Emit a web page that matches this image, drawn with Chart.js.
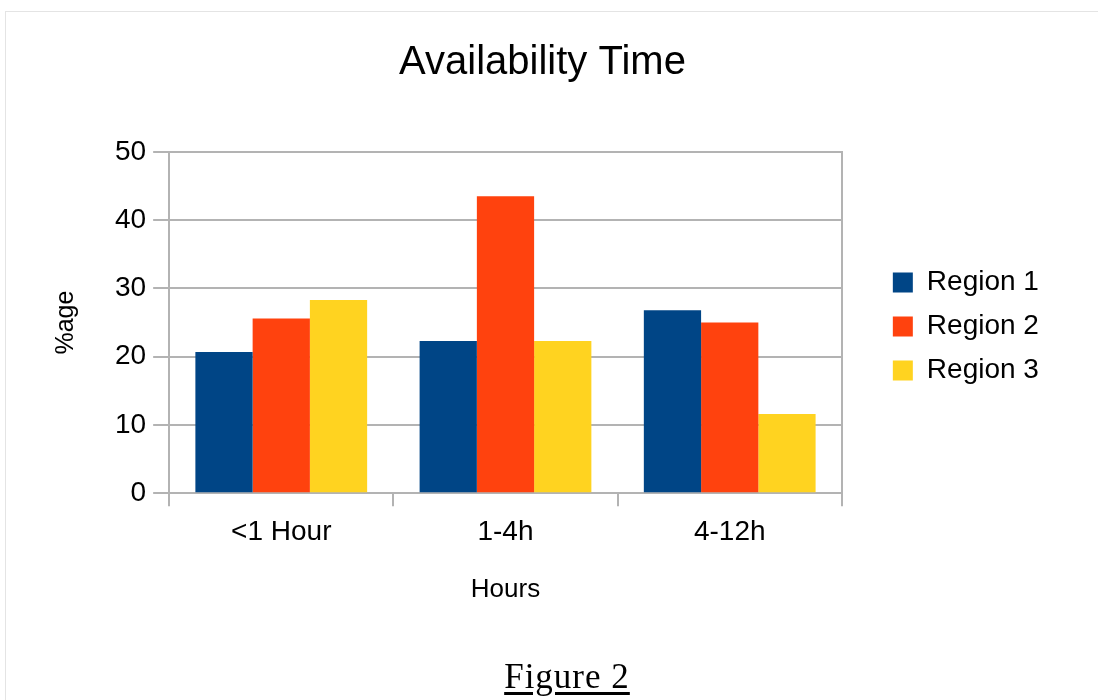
<!DOCTYPE html>
<html lang="en">
<head>
    <meta charset="UTF-8">
    <title>Availability Time</title>
    <script src="https://cdn.jsdelivr.net/npm/chart.js"></script>
    <style>
        body { margin: 0; background: #fff; font-family: "Liberation Sans", Arial, sans-serif; }
        #wrap { position: relative; width: 1098px; height: 700px; overflow: hidden; }
        #frame { position: absolute; left: 5px; top: 11px; width: 1200px; height: 800px;
                 border-left: 1px solid #e4e4e4; border-top: 1px solid #e4e4e4; }
        #chartBox { position: absolute; left: 0; top: 0; width: 1098px; height: 700px; }
        .fig { position: absolute; left: 0; width: 1134px; top: 657px; text-align: center;
               font-family: "Liberation Serif", "Times New Roman", serif; font-size: 35px;
               letter-spacing: 1px; text-decoration: underline; text-underline-offset: 4px; color: #000; }
    </style>
</head>
<body>
<div id="wrap">
    <div id="frame"></div>
    <div id="chartBox"><canvas id="availChart"></canvas></div>
    <div class="fig">Figure 2</div>
</div>

<script>
// values
const categories = ['<1 Hour', '1-4h', '4-12h'];
const seriesNames = ['Region 1', 'Region 2', 'Region 3'];
const region1 = [20.7, 22.3, 26.8];
const region2 = [25.6, 43.5, 25.0];
const region3 = [28.3, 22.3, 11.6];
const yTicks = [0, 10, 20, 30, 40, 50];

const colors = ['#004586', '#ff420e', '#ffd320'];
const gray = '#b3b3b3';
const allValues = [region1, region2, region3];

const ctx = document.getElementById('availChart').getContext('2d');
new Chart(ctx, {
    type: 'bar',
    data: {
        labels: categories,
        datasets: seriesNames.map((name, i) => ({
            label: name,
            data: allValues[i],
            backgroundColor: colors[i],
            borderWidth: 0,
            categoryPercentage: 0.766,
            barPercentage: 1.0
        }))
    },
    options: {
        responsive: true,
        maintainAspectRatio: false,
        animation: false,
        layout: { padding: { left: 41, right: 54, top: 0, bottom: 95 } },
        plugins: {
            title: {
                display: true,
                text: 'Availability Time',
                color: '#000',
                font: { family: 'Liberation Sans', size: 40, weight: 'normal' },
                padding: { top: 39, bottom: 65 }
            },
            legend: {
                position: 'right',
                // blank title only pushes the entries down a little
                title: {
                    display: true,
                    text: ' ',
                    font: { size: 10 },
                    padding: { top: 36, bottom: 0 }
                },
                labels: {
                    color: '#000',
                    font: { family: 'Liberation Sans', size: 28 },
                    boxWidth: 20,
                    boxHeight: 20,
                    padding: 16
                }
            },
            tooltip: { enabled: false }
        },
        scales: {
            x: {
                grid: {
                    offset: true,
                    drawOnChartArea: true,
                    color: c => (c.type !== 'tick' || c.index === 0) ? gray : 'transparent',
                    tickColor: gray,
                    tickLength: 13,
                    lineWidth: 2
                },
                border: { color: gray, width: 2 },
                ticks: {
                    color: '#000',
                    padding: 9,
                    font: { family: 'Liberation Sans', size: 28 }
                },
                title: {
                    display: true,
                    text: 'Hours',
                    color: '#000',
                    font: { family: 'Liberation Sans', size: 26 },
                    padding: { top: 16, bottom: 0 }
                }
            },
            y: {
                min: 0,
                max: 50,
                afterBuildTicks: axis => { axis.ticks = yTicks.map(v => ({ value: v })); },
                grid: { color: gray, tickLength: 16, lineWidth: 2 },
                border: { color: gray, width: 2 },
                ticks: {
                    color: '#000',
                    padding: 7,
                    font: { family: 'Liberation Sans', size: 28 }
                },
                title: {
                    display: true,
                    text: '%age',
                    color: '#000',
                    font: { family: 'Liberation Sans', size: 25 },
                    padding: { top: 10, bottom: 27 }
                }
            },
            // empty right-hand axis: draws the frame's right edge and leaves room before the legend
            yRight: {
                position: 'right',
                min: 0,
                max: 50,
                ticks: { display: false },
                grid: { drawOnChartArea: false, drawTicks: false },
                border: { color: gray, width: 2 },
                afterFit: axis => { axis.width = 35; }
            }
        }
    }
});
</script>
</body>
</html>
